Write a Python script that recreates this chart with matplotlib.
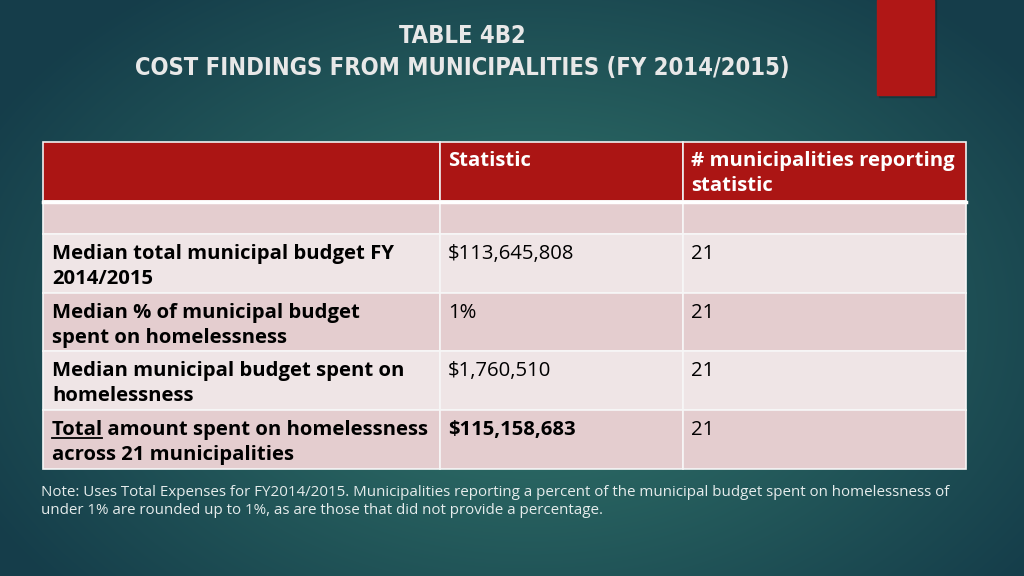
import numpy as np
import matplotlib
matplotlib.use("Agg")
import matplotlib.pyplot as plt
from matplotlib.patches import Rectangle

plt.rcParams["font.family"] = ["Open Sans", "DejaVu Sans"]

# --- table content ---
title_lines = ["TABLE 4B2", "COST FINDINGS FROM MUNICIPALITIES (FY 2014/2015)"]
col_headers = [[""], ["Statistic"], ["# municipalities reporting", "statistic"]]
row_labels = [
    [""],
    ["Median total municipal budget FY", "2014/2015"],
    ["Median % of municipal budget", "spent on homelessness"],
    ["Median municipal budget spent on", "homelessness"],
    ["Total amount spent on homelessness", "across 21 municipalities"],
]
stat_values = ["", "$113,645,808", "1%", "$1,760,510", "$115,158,683"]
counts = ["", "21", "21", "21", "21"]
bold_stat = [False, False, False, False, True]
note_lines = [
    "Note: Uses Total Expenses for FY2014/2015. Municipalities reporting a percent of the municipal budget spent on homelessness of",
    "under 1% are rounded up to 1%, as are those that did not provide a percentage.",
]

W, H = 1024, 576
fig = plt.figure(figsize=(W / 100, H / 100), dpi=100)
ax = fig.add_axes([0, 0, 1, 1])
ax.set_xlim(0, W)
ax.set_ylim(H, 0)
ax.axis("off")

# radial teal background
yy, xx = np.mgrid[0:H, 0:W]
r = np.sqrt(((xx - 530) / 620.0) ** 2 + ((yy - 320) / 420.0) ** 2)
r = np.clip(r, 0, 1)
c_in = np.array([0x34, 0x7a, 0x6e]) / 255.0
c_out = np.array([0x15, 0x3d, 0x4a]) / 255.0
img = c_in[None, None, :] * (1 - r[..., None]) + c_out[None, None, :] * r[..., None]
ax.imshow(img, extent=[0, W, H, 0], aspect="auto", zorder=0)

# red accent bar with a soft shadow
ax.add_patch(Rectangle((879, 0), 57, 97, color="black", alpha=0.15, zorder=1))
ax.add_patch(Rectangle((877, 0), 57, 95, color="#b01716", zorder=2))

for i, line in enumerate(title_lines):
    ax.text(462, 36 + 32 * i, line, ha="center", va="center", fontsize=17,
            fontweight="bold", fontstretch="condensed", color="#e8e8e8", zorder=3,
            family=["DejaVu Sans"])

# table geometry
col_x = [43, 440, 683, 966]
row_y = [142, 201, 234, 293, 351, 410, 469]
red = "#ab1514"
light = "#efe5e6"
dark = "#e4cdcf"
fs = 14.6
line_gap = 25

for j in range(3):
    ax.add_patch(Rectangle((col_x[j], row_y[0]), col_x[j + 1] - col_x[j], row_y[1] - row_y[0],
                           facecolor=red, edgecolor="#f0f0f0", lw=1.2, zorder=2))
    for k, ln in enumerate(col_headers[j]):
        ax.text(col_x[j] + 8, row_y[0] + 24 + k * line_gap, ln, ha="left", va="baseline",
                fontsize=fs, fontweight="bold", color="white", zorder=3)

for i in range(len(row_labels)):
    y0, y1 = row_y[i + 1], row_y[i + 2]
    fc = dark if i % 2 == 0 else light
    for j in range(3):
        ax.add_patch(Rectangle((col_x[j], y0), col_x[j + 1] - col_x[j], y1 - y0,
                               facecolor=fc, edgecolor="#f7f7f7", lw=1.2, zorder=2))
    base = y0 + 25
    for k, ln in enumerate(row_labels[i]):
        ax.text(52, base + k * line_gap, ln, ha="left", va="baseline", fontsize=fs,
                fontweight="bold", color="black", zorder=3)
    ax.text(448, base, stat_values[i], ha="left", va="baseline", fontsize=fs,
            fontweight="bold" if bold_stat[i] else "normal", color="black", zorder=3)
    ax.text(691, base, counts[i], ha="left", va="baseline", fontsize=fs,
            color="black", zorder=3)

# white line under header
ax.plot([col_x[0], col_x[-1]], [row_y[1] + 0.5, row_y[1] + 0.5], color="white", lw=2.5, zorder=3)

# underline "Total" in last row
fig.canvas.draw()
renderer = fig.canvas.get_renderer()
probe = ax.text(52, 300, "Total", ha="left", va="baseline", fontsize=fs,
                fontweight="bold", alpha=0)
bb = probe.get_window_extent(renderer).transformed(ax.transData.inverted())
probe.remove()
ul_y = row_y[5] + 25 + 2.5
ax.plot([52, bb.x1], [ul_y, ul_y], color="black", lw=1.3, zorder=3)

for k, ln in enumerate(note_lines):
    ax.text(41, 492 + 19 * k, ln, ha="left", va="center", fontsize=10.9, color="#e6ecec",
            zorder=3)

fig.savefig("out.png", dpi=100)
